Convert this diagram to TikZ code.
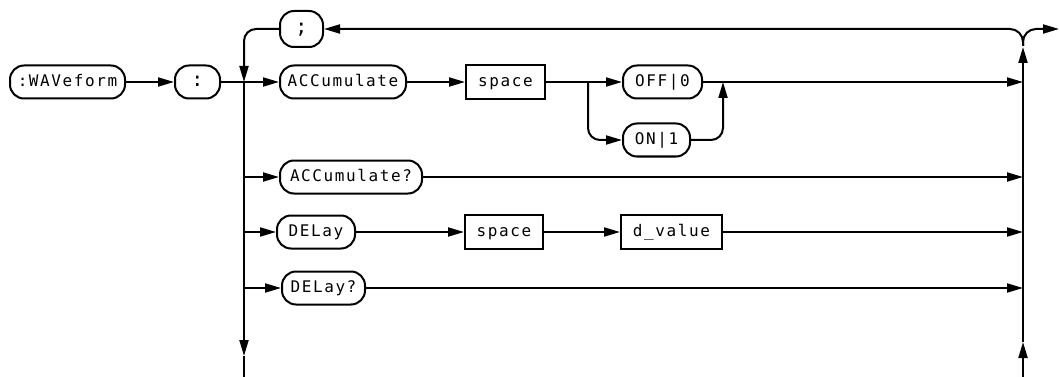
\documentclass[tikz,border=0pt]{standalone}
\usepackage{fontspec}
\newfontfamily\hpfont{DejaVu Sans Mono}[LetterSpace=10]
\usetikzlibrary{arrows.meta}
\begin{document}
\begin{tikzpicture}[x=1pt,y=-1pt, line width=2pt,
  lbl/.style={font=\hpfont\fontsize{16}{18}\selectfont, text height=12pt, text depth=3pt},
  term/.style={lbl, draw, rounded corners=14pt, minimum height=33pt, inner sep=0pt},
  box/.style={lbl, draw, rectangle, minimum height=34pt, inner sep=0pt},
  arr/.style={-{Triangle[length=16pt,width=9pt]}}]
\useasboundingbox (0,0) rectangle (1060,377);
% nodes
\node[term, minimum width=115pt] (wav) at (67.5,82) {:WAVeform};
\node[term, minimum width=45pt] (col) at (197.5,82) {\fontsize{20}{22}\selectfont :};
\node[term, minimum width=43pt, minimum height=36pt] (semi) at (301.5,29) {\fontsize{20}{22}\selectfont ;};
\node[term, minimum width=126pt] (acc) at (343,82) {ACCumulate};
\node[box, minimum width=79pt] (sp1) at (505.5,82) {space};
\node[term, minimum width=79pt] (off) at (662.5,82) {OFF|0};
\node[term, minimum width=67pt] (on) at (656.5,140) {ON|1};
\node[term, minimum width=142pt] (accq) at (351,177) {ACCumulate?};
\node[term, minimum width=78pt] (del) at (316,232) {DELay};
\node[box, minimum width=78pt] (sp2) at (504,232) {space};
\node[box, minimum width=101pt] (dv) at (671.5,232) {d\_value};
\node[term, minimum width=83pt] (delq) at (323.5,288) {DELay?};
% coordinates
\coordinate (Ltop) at (244,82);
\coordinate (Lbot) at (244,377);
\coordinate (Lar) at (244,356);
\coordinate (Bsplit) at (588,82);
\coordinate (Bjoin) at (723,82);
\coordinate (Rbot) at (1023,377);
\coordinate (Rar) at (1023,342);
\coordinate (Rjn) at (1023,46);
\coordinate (Rup) at (1023,47);
\coordinate (Out) at (1059,29);
% connectors
\draw[arr] (wav) -- (col);
\draw[arr] (col) -- (acc);
\draw[arr, rounded corners=12pt] (semi.west) -| (Ltop);
\draw[arr] (Ltop) -- (Lar);
\draw (Lar) -- (Lbot);
\draw[arr] (accq.west -| Ltop) -- (accq.west);
\draw[arr] (del.west -| Ltop) -- (del.west);
\draw[arr] (delq.west -| Ltop) -- (delq.west);
\draw[arr] (acc) -- (sp1);
\draw (sp1.east) -- (Bsplit);
\draw[arr] (Bsplit) -- (off.west);
\draw[arr, rounded corners=12pt] (Bsplit) |- (on.west);
\draw[arr, rounded corners=12pt] (on.east) -| (Bjoin);
\draw[arr] (off.east) -- (off.east -| Rbot);
\draw[arr] (accq.east) -- (accq.east -| Rbot);
\draw[arr] (del) -- (sp2);
\draw[arr] (sp2) -- (dv);
\draw[arr] (dv.east) -- (dv.east -| Rbot);
\draw[arr] (delq.east) -- (delq.east -| Rbot);
\draw[arr] (Rbot) -- (Rar);
\draw[arr] (Rar) -- (Rup);
\draw[arr, rounded corners=13pt] (Rjn) |- (semi.east);
\draw[arr, rounded corners=13pt] (Rjn) |- (Out);
\end{tikzpicture}
\end{document}
